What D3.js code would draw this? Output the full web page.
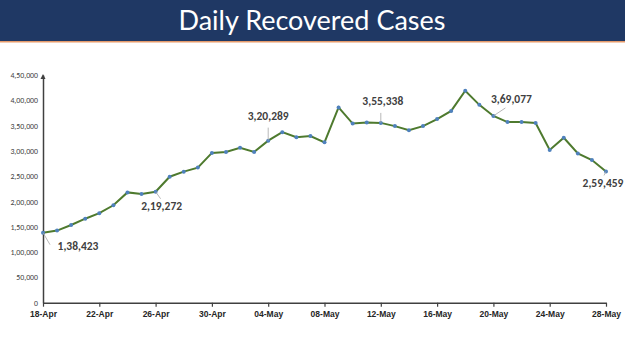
<!DOCTYPE html>
<html><head><meta charset="utf-8">
<script src="https://cdn.jsdelivr.net/npm/d3@7"></script>
<style>body{margin:0;background:#fff}svg{display:block}</style>
</head><body>
<svg id="c" width="625" height="351"></svg>
<script>
const dates = ["18-Apr","19-Apr","20-Apr","21-Apr","22-Apr","23-Apr","24-Apr","25-Apr","26-Apr","27-Apr","28-Apr","29-Apr","30-Apr",
"01-May","02-May","03-May","04-May","05-May","06-May","07-May","08-May","09-May","10-May","11-May","12-May","13-May","14-May","15-May",
"16-May","17-May","18-May","19-May","20-May","21-May","22-May","23-May","24-May","25-May","26-May","27-May","28-May"];
const recovered = [138423,142500,153500,166000,177000,192500,218000,215000,219272,249000,259000,267000,296000,
298000,306000,298000,320289,337000,327000,329500,317000,386000,354000,356000,355338,349000,341000,349000,
363000,379000,419000,391000,369077,357000,357000,355000,302000,326000,295000,282000,259459];
const yTicks = [0,50000,100000,150000,200000,250000,300000,350000,400000,450000];
const xTickLabels = ["18-Apr","22-Apr","26-Apr","30-Apr","04-May","08-May","12-May","16-May","20-May","24-May","28-May"];
const labelled = ["18-Apr","26-Apr","04-May","12-May","20-May","28-May"];
const labelOffsets = [[35,17],[6,18],[0,-21],[2,-18],[18,-13],[-3,16]]; // label placement relative to point
const leaderEnds = [[7,12],[5,7],[0,-13],[0,-10],[12,-8],[-2,4]];       // leader line end relative to point
const title = "Daily Recovered Cases";

function inr(n){
  const s = String(Math.round(n));
  if (s.length <= 3) return s;
  const last3 = s.slice(-3);
  let rest = s.slice(0,-3);
  const parts = [];
  while (rest.length > 2){ parts.unshift(rest.slice(-2)); rest = rest.slice(0,-2); }
  if (rest.length) parts.unshift(rest);
  return parts.join(",") + "," + last3;
}

const svg = d3.select("#c");
// header
svg.append("rect").attr("x",0).attr("y",0).attr("width",625).attr("height",41).attr("fill","#1f3864");
svg.append("rect").attr("x",0).attr("y",41).attr("width",625).attr("height",1.5).attr("fill","#e59a6a");
svg.append("text").attr("x",312).attr("y",29.5).attr("text-anchor","middle")
  .attr("font-family","Lato, 'Open Sans', sans-serif").attr("font-size",27).attr("fill","#fff").text(title);

const x = d3.scalePoint().domain(dates).range([43,606]);
const y = d3.scaleLinear().domain([0,450000]).range([302.7,75]);

const g = svg.append("g");
// y axis
const ya = g.append("g").attr("transform","translate(43,0)")
  .call(d3.axisLeft(y).tickValues(yTicks).tickFormat(inr).tickSize(0).tickPadding(5));
ya.select(".domain").attr("stroke","#404040").attr("stroke-width",1.5);
ya.selectAll("text").attr("font-family","Calibri, Carlito, 'Liberation Sans', sans-serif").attr("font-size",7.8).attr("fill","#404040");
// arrowhead
g.append("path").attr("d",`M40.5,${y(450000)+4}L43,${y(450000)-1}L45.5,${y(450000)+4}Z`).attr("fill","#404040");

// x axis
const xa = g.append("g").attr("transform",`translate(0,${y(0)})`)
  .call(d3.axisBottom(x).tickValues(xTickLabels).tickSize(4).tickPadding(4).tickSizeOuter(0));
xa.select(".domain").attr("stroke","#404040").attr("stroke-width",1.5);
xa.selectAll(".tick line").attr("stroke","#404040").attr("stroke-width",1.2);
xa.selectAll("text").attr("font-family","'Liberation Sans', Arial, sans-serif").attr("font-weight","bold")
  .attr("font-size",8.5).attr("fill","#262626");

const data = dates.map((d,i)=>({d, v: recovered[i]}));
g.append("path").datum(data).attr("fill","none").attr("stroke","#4e7a2e").attr("stroke-width",2)
  .attr("d", d3.line().x(p=>x(p.d)).y(p=>y(p.v)));
g.selectAll("circle").data(data).join("circle").attr("cx",p=>x(p.d)).attr("cy",p=>y(p.v)).attr("r",2)
  .attr("fill","#4f81bd");

// data labels
labelled.forEach((d,i)=>{
  const v = recovered[dates.indexOf(d)];
  const px = x(d), py = y(v);
  const [dx,dy] = labelOffsets[i];
  const [ex,ey] = leaderEnds[i];
  g.append("line").attr("x1",px).attr("y1",py).attr("x2",px+ex).attr("y2",py+ey)
    .attr("stroke","#a6a6a6").attr("stroke-width",0.8);
  g.append("text").attr("x",px+dx).attr("y",py+dy).attr("text-anchor","middle")
    .attr("font-family","Carlito, Calibri, 'Liberation Sans', sans-serif").attr("font-weight","bold")
    .attr("font-size",11.5).attr("fill","#404040").text(inr(v));
});
</script>
</body></html>
